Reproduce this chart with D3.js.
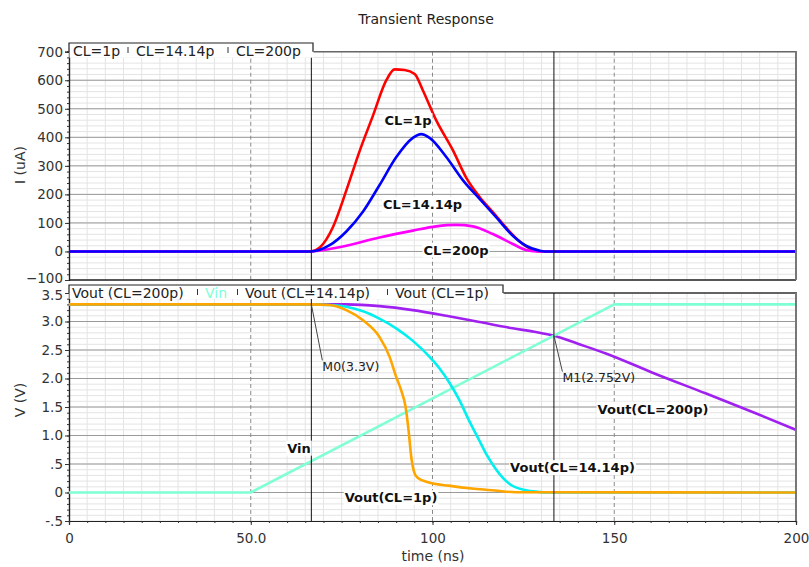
<!DOCTYPE html>
<html><head><meta charset="utf-8">
<script src="https://cdn.jsdelivr.net/npm/d3@7"></script>
<style>
body{margin:0;background:#fff;}
svg text{font-family:"DejaVu Sans",sans-serif;}
</style></head>
<body><svg id="c" width="809" height="567"></svg>
<script>
// ---------- data ----------
const xTicks = [0, 50, 100, 150, 200];
const xTickLabels = ["0", "50.0", "100", "150", "200"];
const iTicks = [-100, 0, 100, 200, 300, 400, 500, 600, 700];
const vTicks = [-0.5, 0, 0.5, 1.0, 1.5, 2.0, 2.5, 3.0, 3.5];
const vTickLabels = ["-.5", "0", ".5", "1.0", "1.5", "2.0", "2.5", "3.0", "3.5"];

// currents (uA) vs time (ns)
const tRed  = [0, 66.5, 69.0, 72.6, 76.3, 79.9, 83.6, 87.3, 89.6, 92.3, 95.1, 97.3, 101.0, 105.6, 109.3, 112.9, 116.6, 120.2, 123.9, 127.6, 129.5, 200];
const iRed  = [0, 0, 14, 85, 214, 350, 475, 600, 638, 636, 622, 566, 460, 355, 258, 192, 138, 84, 36, 6, 0, 0];
const tMag  = [0, 66.5, 71.0, 76.3, 85.4, 94.6, 101.0, 106.5, 111.1, 116.6, 122.1, 125.7, 128.5, 200];
const iMag  = [0, 0, 7, 20, 49, 73, 88, 93, 88, 61, 26, 5, 0, 0];
const tBlue = [0, 66.5, 71.7, 76.3, 80.9, 85.4, 90.0, 94.6, 96.9, 99.2, 103.8, 108.4, 112.9, 117.5, 122.1, 125.7, 129.4, 131, 200];
const iBlue = [0, 0, 22, 70, 140, 232, 330, 398, 411, 398, 331, 249, 185, 120, 55, 20, 3, 0, 0];

// voltages (V) vs time (ns)
const tVin = [0, 50, 150, 200];
const vVin = [0, 0, 3.3, 3.3];
const tP = [0, 66.5, 76.3, 85.4, 94.6, 103.8, 112.9, 122.1, 128.0, 133.4, 140.0, 147.7, 161.4, 175.1, 188.9, 200];
const vP = [3.3, 3.3, 3.30, 3.27, 3.20, 3.10, 2.99, 2.88, 2.82, 2.752, 2.61, 2.44, 2.08, 1.74, 1.39, 1.10];
const tC = [0, 66.5, 71.7, 76.3, 80.9, 85.4, 90.0, 94.6, 99.2, 101.9, 104.7, 107.4, 110.0, 112.9, 115.0, 117.2, 119.3, 121.4, 125.7, 129.3, 131, 200];
const vC = [3.3, 3.3, 3.29, 3.26, 3.18, 3.05, 2.88, 2.66, 2.38, 2.18, 1.92, 1.62, 1.27, 0.91, 0.65, 0.43, 0.26, 0.14, 0.04, 0.01, 0, 0];
const tO = [0, 66.5, 71.7, 76.3, 80.9, 85.4, 88.2, 90.0, 91.4, 92.6, 93.4, 94.2, 95.0, 95.9, 98.8, 104.4, 111.5, 117.2, 122.8, 200];
const vO = [3.3, 3.3, 3.29, 3.2, 3.02, 2.73, 2.38, 2.03, 1.79, 1.5, 1.1, 0.6, 0.35, 0.26, 0.18, 0.12, 0.065, 0.035, 0.005, 0];

const cursors = [66.67, 133.4];
const markers = [{t: 66.67, v: 3.3, label: "M0(3.3V)"}, {t: 133.4, v: 2.752, label: "M1(2.752V)"}];

// ---------- layout ----------
const svg = d3.select("#c");
const L = 69, R = 796;
const x = d3.scaleLinear().domain([0, 200]).range([L, R]);
const yI = d3.scaleLinear().domain([-100, 700]).range([280, 51.7]);
const yV = d3.scaleLinear().domain([-0.5, 3.5]).range([521, 293]);

function zip(ts, vs){ return ts.map((t,i)=>[t, vs[i]]); }

function panel(y, yMinorStep, yMajor, top, bottom){
  const g = svg.append("g");
  const d0 = y.domain();
  d3.range(0, 201, 5).forEach(t=>{
    if (t % 50 === 0) return;
    g.append("line").attr("x1", x(t)).attr("x2", x(t)).attr("y1", top).attr("y2", bottom)
      .attr("stroke", "#e4e4e4").attr("stroke-width", 1);
  });
  const nMin = Math.round((d0[1]-d0[0])/yMinorStep);
  for (let k=0;k<=nMin;k++){
    const v = d0[0] + k*yMinorStep;
    g.append("line").attr("x1", L).attr("x2", R).attr("y1", y(v)).attr("y2", y(v))
      .attr("stroke", "#e4e4e4").attr("stroke-width", 1);
  }
  yMajor.forEach(v=>{
    g.append("line").attr("x1", L).attr("x2", R).attr("y1", y(v)).attr("y2", y(v))
      .attr("stroke", "#9a9a9a").attr("stroke-width", 1);
  });
  [50,100,150].forEach(t=>{
    g.append("line").attr("x1", x(t)).attr("x2", x(t)).attr("y1", top).attr("y2", bottom)
      .attr("stroke", "#8a8a8a").attr("stroke-width", 1).attr("stroke-dasharray", "4,3");
  });
  return g;
}

svg.append("text").attr("x", 426).attr("y", 24).attr("text-anchor", "middle")
  .attr("font-size", 14).attr("fill", "#222").text("Transient Response");

// ---- top panel ----
panel(yI, 20, [0,100,200,300,400,500,600], 51.7, 280);
svg.append("g").attr("class","yax").attr("transform", `translate(${L},0)`)
  .call(d3.axisLeft(yI).tickValues(iTicks).tickSize(4).tickPadding(2).tickFormat(d3.format("d")));
svg.append("g").attr("transform", `translate(${L},0)`)
  .call(d3.axisLeft(yI).tickValues(d3.range(-100, 701, 20)).tickSize(2).tickFormat(""));

const lineI = d3.line().x(d=>x(d[0])).y(d=>yI(d[1])).curve(d3.curveMonotoneX);
[[tRed,iRed,"#ff0000"],[tMag,iMag,"#ff00ff"],[tBlue,iBlue,"#0000ff"]].forEach(([t,v,c])=>{
  svg.append("path").datum(zip(t,v)).attr("d", lineI).attr("fill","none")
    .attr("stroke", c).attr("stroke-width", 2.6).attr("stroke-linejoin","round");
});

svg.append("line").attr("x1", L).attr("x2", R).attr("y1", 280).attr("y2", 280).attr("stroke", "#222").attr("stroke-width", 1.5);
svg.append("line").attr("x1", 313).attr("x2", R+1).attr("y1", 51.7).attr("y2", 51.7).attr("stroke", "#666").attr("stroke-width", 1.5);
svg.append("line").attr("x1", R).attr("x2", R).attr("y1", 51).attr("y2", 280).attr("stroke", "#777").attr("stroke-width", 2);

// ---- bottom panel ----
panel(yV, 0.1, [0,0.5,1.0,1.5,2.0,2.5,3.0], 293, 521);
svg.append("g").attr("class","yax").attr("transform", `translate(${L},0)`)
  .call(d3.axisLeft(yV).tickValues(vTicks).tickSize(4).tickPadding(2).tickFormat((d,i)=>vTickLabels[i]));
svg.append("g").attr("transform", `translate(${L},0)`)
  .call(d3.axisLeft(yV).tickValues(d3.range(-5, 36, 1).map(k=>k/10)).tickSize(2).tickFormat(""));
svg.append("g").attr("transform", `translate(0,521)`)
  .call(d3.axisBottom(x).tickValues(xTicks).tickSize(4).tickPadding(8).tickFormat((d,i)=>xTickLabels[i]));
svg.append("g").attr("transform", `translate(0,521)`)
  .call(d3.axisBottom(x).tickValues(d3.range(0, 201, 5)).tickSize(2).tickFormat(""));

const lineV = d3.line().x(d=>x(d[0])).y(d=>yV(d[1])).curve(d3.curveMonotoneX);
const lineLin = d3.line().x(d=>x(d[0])).y(d=>yV(d[1]));
[[tP,vP,"#a020f0",lineV],[tVin,vVin,"#7fffd4",lineLin],[tC,vC,"#00f0f0",lineV],[tO,vO,"#ffa500",lineV]].forEach(([t,v,c,ln])=>{
  svg.append("path").datum(zip(t,v)).attr("d", ln).attr("fill","none")
    .attr("stroke", c).attr("stroke-width", 2.6).attr("stroke-linejoin","round");
});

svg.append("line").attr("x1", 503).attr("x2", R+1).attr("y1", 293).attr("y2", 293).attr("stroke", "#333").attr("stroke-width", 1.5);
svg.append("line").attr("x1", R).attr("x2", R).attr("y1", 293).attr("y2", 521).attr("stroke", "#777").attr("stroke-width", 2);

svg.selectAll(".domain").attr("stroke", "#222").attr("stroke-width", 1.2);
svg.selectAll(".tick line").attr("stroke", "#333");
svg.selectAll(".tick text").attr("font-size", 13.5).attr("fill", "#333").attr("font-family", "DejaVu Sans");
// nudge the extreme labels apart like the reference
svg.selectAll(".yax .tick").filter(d=>d===-100).select("text").attr("dy", "0.15em");
svg.selectAll(".yax .tick").filter(d=>d===3.5).select("text").attr("dy", "0.45em");

cursors.forEach(t=>{
  svg.append("line").attr("x1", x(t)).attr("x2", x(t)).attr("y1", 51.7).attr("y2", 280).attr("stroke", "#111").attr("stroke-width", 1);
  svg.append("line").attr("x1", x(t)).attr("x2", x(t)).attr("y1", 293).attr("y2", 521).attr("stroke", "#111").attr("stroke-width", 1);
});

const mOff = [[11, 56, 367], [8.5, 36, 378]];
markers.forEach((m,i)=>{
  const px = x(m.t), py = yV(m.v);
  svg.append("line").attr("x1", px).attr("y1", py).attr("x2", px+mOff[i][0]).attr("y2", py+mOff[i][1])
    .attr("stroke", "#444").attr("stroke-width", 1);
  svg.append("text").attr("x", px+mOff[i][0]).attr("y", mOff[i][2]).attr("dy", "0.35em")
    .attr("font-size", 12.5).attr("fill", "#222").text(m.label);
});

function tab(x0, x1, yTop, yBase, items){
  svg.append("rect").attr("x", x0+0.5).attr("y", yTop).attr("width", x1-x0).attr("height", yBase-yTop+6).attr("fill", "#fff");
  svg.append("path").attr("d", `M${x0},${yBase} V${yTop} H${x1} V${yBase}`).attr("fill","none").attr("stroke","#222").attr("stroke-width",1.2);
  items.forEach(it=>{
    svg.append("text").attr("x", it.x).attr("y", yTop+12.5).attr("font-size", 14).attr("fill", it.c).text(it.t);
    if (it.sep) svg.append("line").attr("x1", it.sep).attr("x2", it.sep).attr("y1", yTop+4).attr("y2", yTop+10).attr("stroke","#333");
  });
}
tab(L, 313, 43, 51.7, [
  {t:"CL=1p", x:73, c:"#222", sep:128},
  {t:"CL=14.14p", x:136, c:"#222", sep:228},
  {t:"CL=200p", x:236, c:"#222"}
]);
tab(L, 503, 285, 293, [
  {t:"Vout (CL=200p)", x:72, c:"#222", sep:197.5},
  {t:"Vin", x:205, c:"#7fffd4", sep:237.5},
  {t:"Vout (CL=14.14p)", x:245, c:"#222", sep:387.5},
  {t:"Vout (CL=1p)", x:395, c:"#222"}
]);
svg.append("line").attr("x1", x(cursors[0])).attr("x2", x(cursors[0])).attr("y1", 285).attr("y2", 293).attr("stroke", "#111");

function blabel(t, cx, cy){
  const tx = svg.append("text").attr("x", cx).attr("y", cy).attr("dy","0.36em").attr("text-anchor","middle")
    .attr("font-size", 13).attr("font-weight","bold").attr("fill","#111").text(t);
  const bb = tx.node().getBBox();
  svg.insert("rect", function(){ return tx.node(); })
    .attr("x", bb.x-1).attr("y", bb.y).attr("width", bb.width+2).attr("height", bb.height).attr("fill","#fff");
}
blabel("CL=1p", 408, 120.5);
blabel("CL=14.14p", 422.5, 204.5);
blabel("CL=200p", 456, 250);
blabel("Vin", 299, 448);
blabel("Vout(CL=14.14p)", 572.5, 467.5);
blabel("Vout(CL=1p)", 391, 497.5);
blabel("Vout(CL=200p)", 653, 409);

svg.append("text").attr("transform","translate(20,165) rotate(-90)").attr("text-anchor","middle").attr("dy","0.35em")
  .attr("font-size", 14).attr("fill","#333").text("I (uA)");
svg.append("text").attr("transform","translate(20,400) rotate(-90)").attr("text-anchor","middle").attr("dy","0.35em")
  .attr("font-size", 14).attr("fill","#333").text("V (V)");
svg.append("text").attr("x", 433).attr("y", 556).attr("text-anchor","middle").attr("dy","0.35em")
  .attr("font-size", 14).attr("fill","#333").text("time (ns)");
</script>
</body></html>
